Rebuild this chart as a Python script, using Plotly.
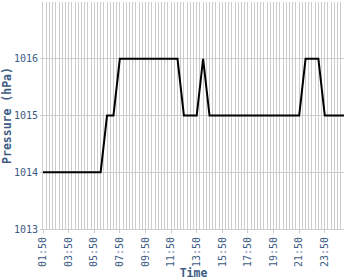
import plotly.graph_objects as go
import pandas as pd

start = "2024-01-01 01:50"
times = pd.date_range(start=start, periods=48, freq="30min")
pressure = ([1014] * 10 + [1015] * 2 + [1016] * 10 + [1015] * 3 + [1016] * 1
            + [1015] * 15 + [1016] * 3 + [1015] * 4)
y_ticks = [1013, 1014, 1015, 1016]

label_color = "#3d5c85"
grid_color = "#cccccc"
mono = "DejaVu Sans Mono"

fig = go.Figure(go.Scatter(x=times, y=pressure, mode="lines",
                           line=dict(color="black", width=2), hoverinfo="skip"))

fig.update_layout(
    width=350, height=280,
    margin=dict(l=43, r=6, t=2, b=51),
    plot_bgcolor="white", paper_bgcolor="white",
    showlegend=False,
    xaxis=dict(
        type="date",
        range=[times[0], times[-1]],
        tick0=start, dtick=7200000, tickformat="%H:%M",
        tickangle=-90,
        tickfont=dict(family=mono, size=10, color=label_color),
        ticks="outside", ticklen=3, tickcolor=grid_color,
        showgrid=True, gridcolor=grid_color, gridwidth=1,
        minor=dict(dtick=900000, tick0=start, showgrid=True,
                   gridcolor=grid_color, gridwidth=1, ticks=""),
        showline=True, linecolor=grid_color, linewidth=1,
        zeroline=False,
        title=dict(text="<b>Time</b>", standoff=4,
                   font=dict(family=mono, size=11.5, color=label_color)),
    ),
    yaxis=dict(
        range=[1013, 1017],
        tickvals=y_ticks,
        tickfont=dict(family=mono, size=10, color=label_color),
        ticks="outside", ticklen=2, tickcolor=grid_color,
        showgrid=True, gridcolor=grid_color, gridwidth=1,
        showline=True, linecolor=grid_color, linewidth=1,
        zeroline=False,
        title=dict(text="<b>Pressure (hPa)</b>", standoff=4,
                   font=dict(family=mono, size=11.5, color=label_color)),
    ),
)

fig.write_html("out.html")
